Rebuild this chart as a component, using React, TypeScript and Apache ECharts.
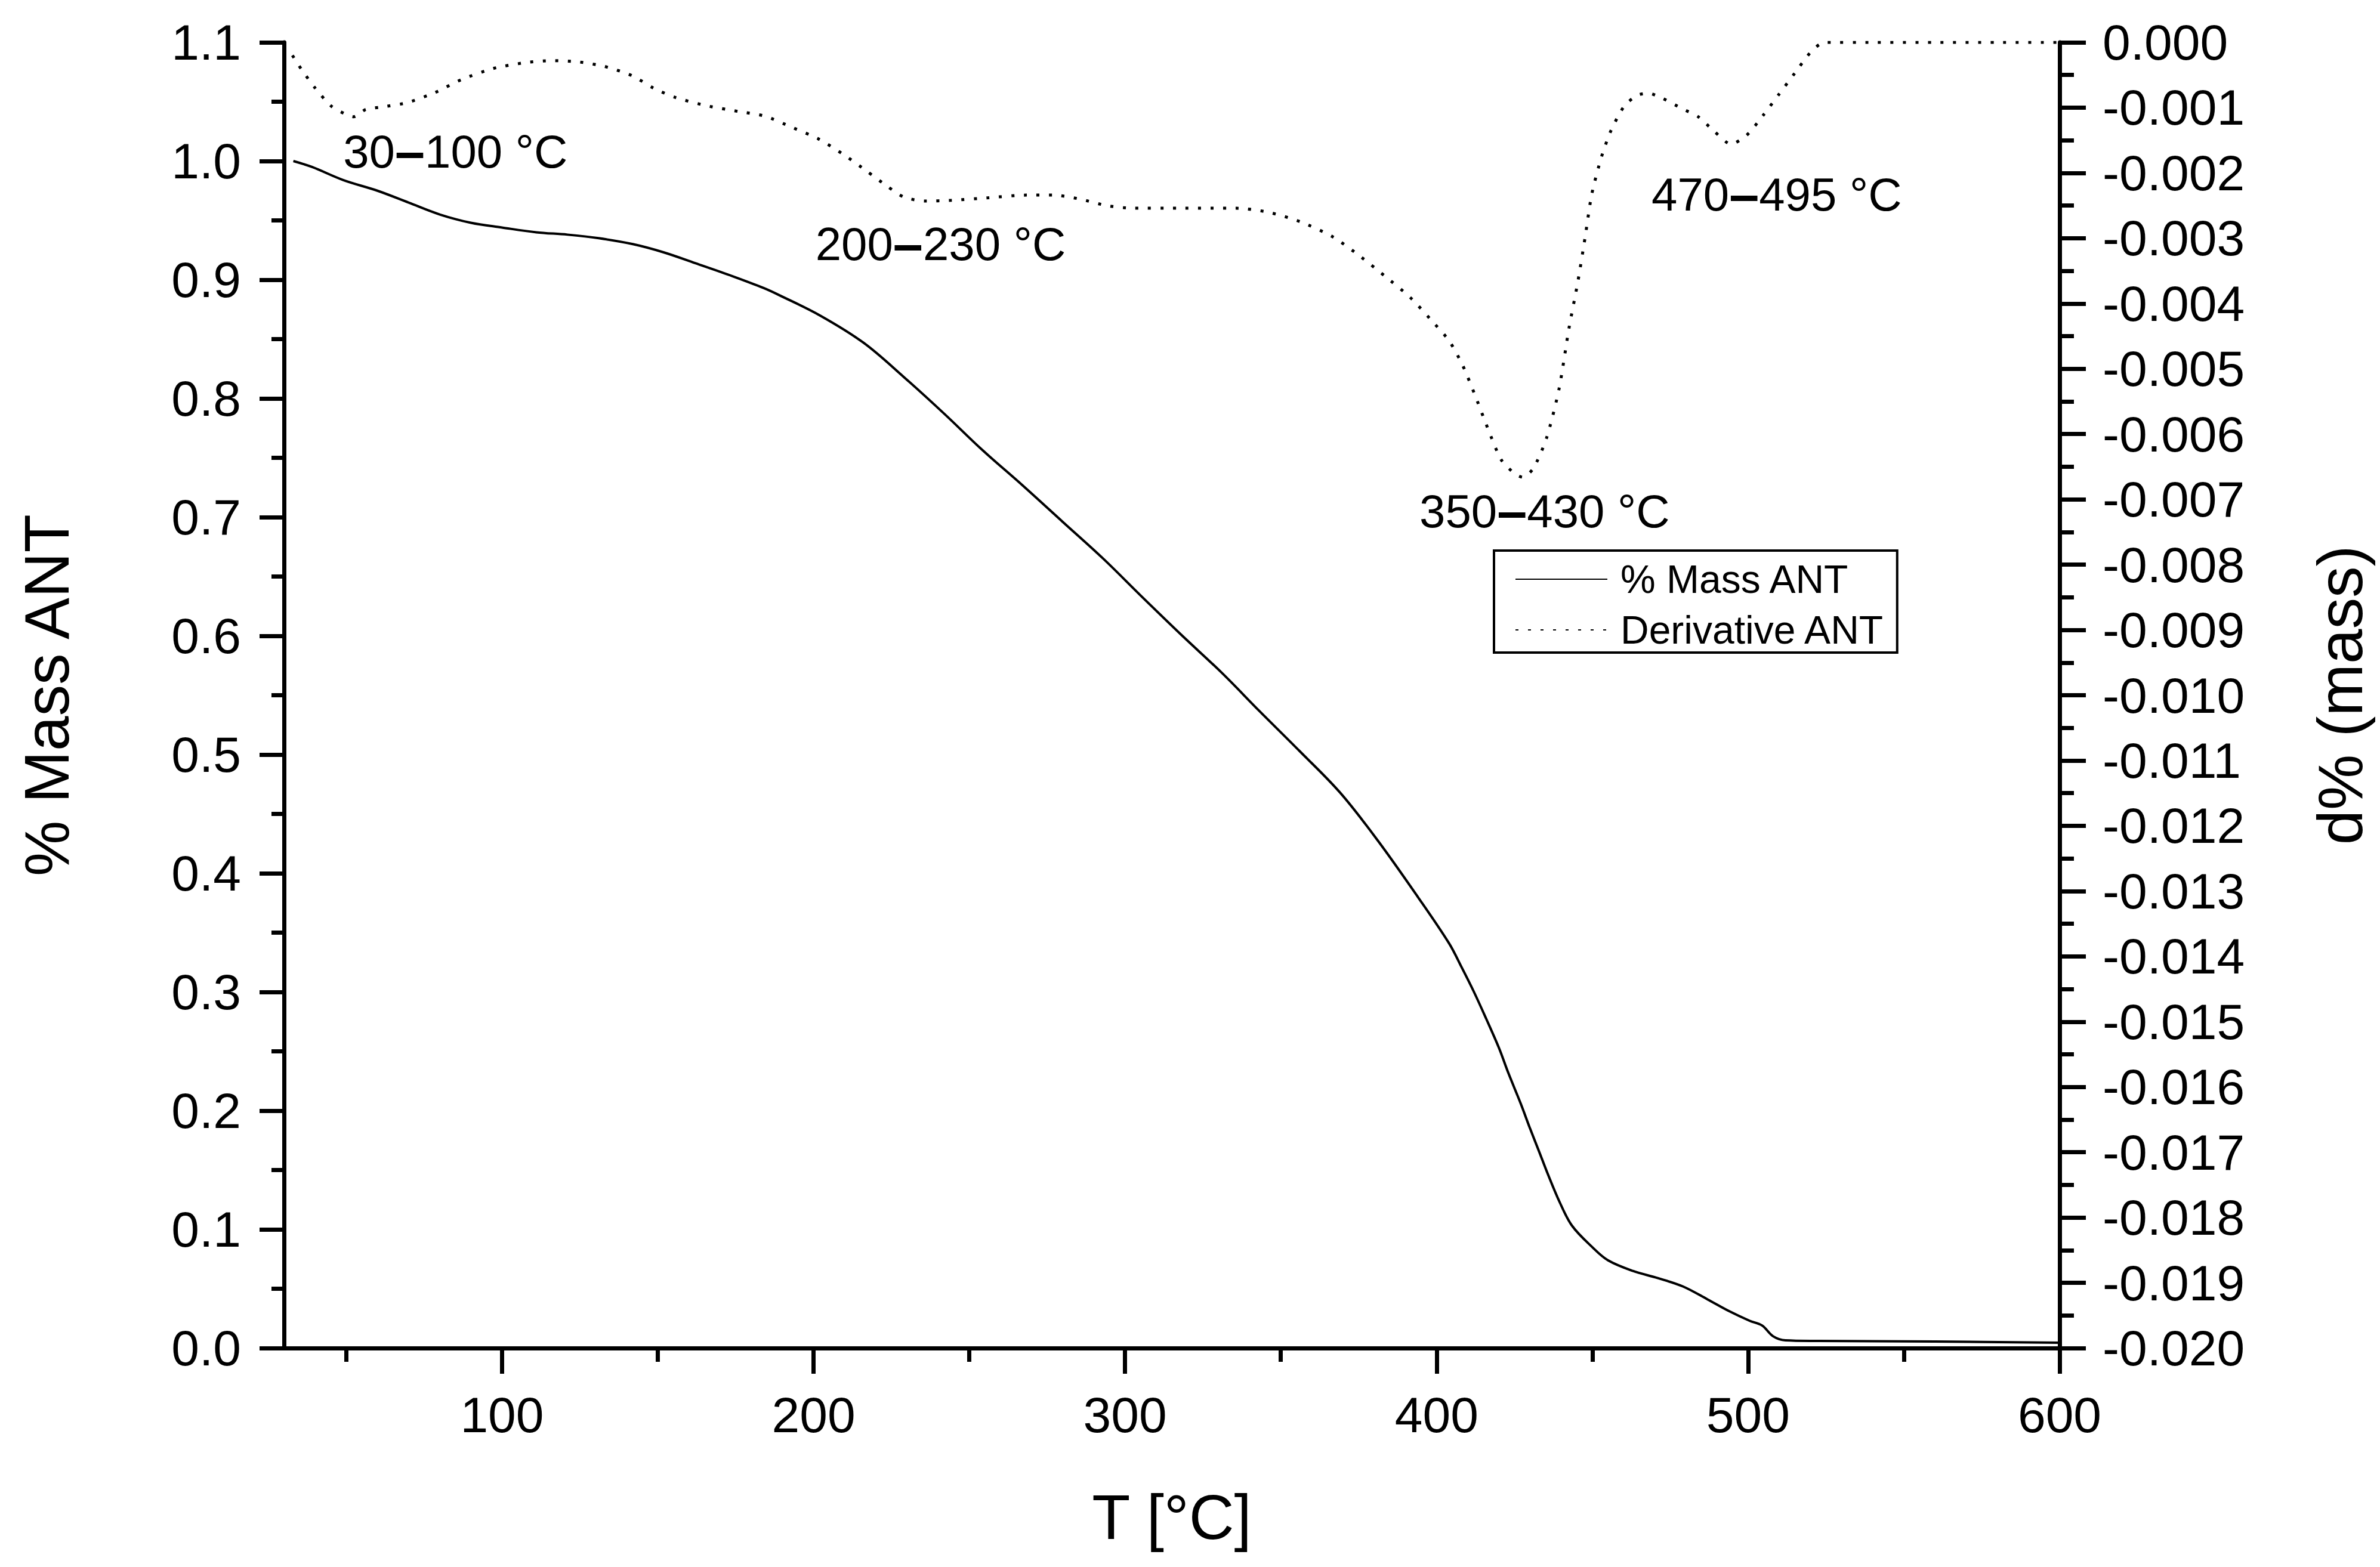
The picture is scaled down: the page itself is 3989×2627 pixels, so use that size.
import React, { useEffect, useRef } from "react";
import * as echarts from "echarts";

// ---- data ----
const massT = [33, 39, 49, 60, 70, 80, 90, 100, 111, 121, 131, 142, 152, 162, 174, 184, 189, 202, 216, 229, 242, 254, 267, 280, 293, 305, 318, 331, 343, 356, 369, 381, 394, 404, 408, 412, 416, 420, 423, 427, 430, 433, 435.5, 439.5, 443.5, 450, 455, 463, 471, 479, 487, 494, 500.5, 504.5, 508, 512, 522, 560, 600];
const massValues = [1.0, 0.995, 0.984, 0.975, 0.965, 0.955, 0.948, 0.944, 0.94, 0.938, 0.935, 0.93, 0.923, 0.914, 0.903, 0.893, 0.887, 0.87, 0.847, 0.818, 0.787, 0.757, 0.727, 0.696, 0.665, 0.634, 0.601, 0.569, 0.537, 0.503, 0.468, 0.428, 0.38, 0.341, 0.321, 0.3, 0.277, 0.253, 0.232, 0.206, 0.185, 0.165, 0.148, 0.123, 0.103, 0.085, 0.074, 0.065, 0.059, 0.052, 0.041, 0.031, 0.023, 0.019, 0.01, 0.0065, 0.006, 0.0055, 0.0045];

const derivT = [32.7, 35.7, 40, 45, 49.3, 52.4, 56.2, 63, 69.8, 78.4, 87, 97.2, 107.6, 116, 124.6, 133, 141.7, 148.6, 155.4, 165.6, 176, 184.4, 193, 201.6, 210, 217, 223.8, 229, 235.7, 244.3, 256.2, 268.3, 276.9, 285.5, 294, 302.3, 317, 335.5, 345.8, 356.4, 366.7, 375, 383.4, 391.6, 398, 404, 408.3, 412.3, 416.5, 420.7, 424.9, 427.6, 431, 435.3, 439.3, 442.5, 445.3, 447.7, 449.8, 452.9, 456, 460.2, 464.4, 468, 472.6, 479, 484, 489.3, 494.5, 499.6, 504.8, 510, 515, 520.3, 524.5, 540, 560, 580, 600];
const derivValues = [-0.0002, -0.00042, -0.0007, -0.00097, -0.00109, -0.00114, -0.00103, -0.00098, -0.00092, -0.00077, -0.00057, -0.0004, -0.00031, -0.00028, -0.0003, -0.00037, -0.00051, -0.0007, -0.00084, -0.00097, -0.00106, -0.00113, -0.0013, -0.00148, -0.00173, -0.00197, -0.00221, -0.00237, -0.00243, -0.00242, -0.00238, -0.00234, -0.00234, -0.0024, -0.0025, -0.00254, -0.00254, -0.00254, -0.0026, -0.00275, -0.00298, -0.00326, -0.00358, -0.00391, -0.00424, -0.00457, -0.00494, -0.0054, -0.00592, -0.00639, -0.0066, -0.00666, -0.00653, -0.00606, -0.00531, -0.00438, -0.00368, -0.00298, -0.00233, -0.00176, -0.00135, -0.00098, -0.00081, -0.00078, -0.00086, -0.00102, -0.00114, -0.00137, -0.00156, -0.00142, -0.00112, -0.00079, -0.00047, -0.00014, 0, 0, 0, 0, 0];

const seriesNames = ["% Mass ANT", "Derivative ANT"];
const xMajorTicks = [100, 200, 300, 400, 500, 600];
const xMinorTicks = [50, 150, 250, 350, 450, 550];
const xTitle = "T [°C]";
const leftTitle = "% Mass ANT";
const rightTitle = "d% (mass)";
const annotationRanges = [
  ["30", "100"],
  ["200", "230"],
  ["350", "430"],
  ["470", "495"],
];

// ---- layout (left edge of text, in data units of T / % mass axis) ----
const annotationAnchors = [
  [49.0, 1.008],
  [200.6, 0.93],
  [394.5, 0.705],
  [469.0, 0.972],
];

const FONT = "'Liberation Sans', Arial, Helvetica, sans-serif";
const BLACK = "#000";

export default function App() {
  const ref = useRef<HTMLDivElement | null>(null);

  useEffect(() => {
    if (!ref.current) return;
    const chart = echarts.init(ref.current, null, { renderer: "svg" });

    const massData = massT.map((t, i) => [t, massValues[i]]);
    const derivData = derivT.map((t, i) => [t, derivValues[i]]);

    const axisLine = { show: true, onZero: false, lineStyle: { color: BLACK, width: 7 } };
    const tickStyle = { color: BLACK, width: 7 };
    const labelStyle = { color: BLACK, fontSize: 84, fontFamily: FONT };
    const nameStyle = { color: BLACK, fontSize: 105, fontFamily: FONT };

    const option: any = {
      animation: false,
      backgroundColor: "#fff",
      grid: { left: 476, right: 537, top: 71, bottom: 367, containLabel: false },
      legend: {
        orient: "vertical",
        left: 2504,
        top: 923,
        itemWidth: 154,
        itemHeight: 20,
        itemGap: 19,
        padding: [15, 20, 5, 35],
        borderColor: BLACK,
        borderWidth: 4,
        data: seriesNames,
        itemStyle: { opacity: 0 },
        textStyle: {
          color: BLACK,
          fontSize: 66,
          fontFamily: FONT,
          lineHeight: 66,
          padding: [0, 0, 0, 17],
        },
      },
      xAxis: [
        {
          type: "value",
          min: 30,
          max: 600,
          position: "bottom",
          axisLine,
          axisTick: { show: true, customValues: xMajorTicks, length: 43, lineStyle: tickStyle },
          axisLabel: { ...labelStyle, customValues: xMajorTicks, margin: 70 },
          splitLine: { show: false },
          name: xTitle,
          nameLocation: "middle",
          nameGap: 231,
          nameTextStyle: nameStyle,
        },
        {
          type: "value",
          min: 30,
          max: 600,
          position: "bottom",
          axisLine: { show: false, onZero: false },
          axisTick: { show: true, customValues: xMinorTicks, length: 23, lineStyle: tickStyle },
          axisLabel: { show: false },
          splitLine: { show: false },
        },
      ],
      yAxis: [
        {
          type: "value",
          min: 0,
          max: 1.1,
          interval: 0.1,
          position: "left",
          axisLine,
          axisTick: { show: true, length: 41, lineStyle: tickStyle },
          minorTick: { show: true, splitNumber: 2, length: 21, lineStyle: tickStyle },
          axisLabel: { ...labelStyle, margin: 72, formatter: (v: number) => v.toFixed(1) },
          splitLine: { show: false },
          minorSplitLine: { show: false },
          name: leftTitle,
          nameLocation: "middle",
          nameRotate: 90,
          nameGap: 345,
          nameTextStyle: nameStyle,
        },
        {
          type: "value",
          min: -0.02,
          max: 0,
          interval: 0.001,
          position: "right",
          axisLine,
          axisTick: { show: true, length: 44, lineStyle: tickStyle },
          minorTick: { show: true, splitNumber: 2, length: 24, lineStyle: tickStyle },
          axisLabel: {
            ...labelStyle,
            margin: 72,
            formatter: (v: number) => (Math.abs(v) < 1e-9 ? "0.000" : v.toFixed(3)),
          },
          splitLine: { show: false },
          minorSplitLine: { show: false },
          name: rightTitle,
          nameLocation: "middle",
          nameRotate: 90,
          nameGap: 418,
          nameTextStyle: nameStyle,
        },
      ],
      series: [
        {
          name: seriesNames[0],
          type: "line",
          xAxisIndex: 0,
          yAxisIndex: 0,
          data: massData,
          showSymbol: false,
          symbol: "none",
          smooth: 0.35,
          lineStyle: { color: BLACK, width: 4 },
          itemStyle: { color: BLACK },
        },
        {
          name: seriesNames[1],
          type: "line",
          xAxisIndex: 0,
          yAxisIndex: 1,
          data: derivData,
          showSymbol: false,
          symbol: "none",
          smooth: 0.25,
          lineStyle: { color: BLACK, width: 5, type: [5, 16] },
          itemStyle: { color: BLACK },
        },
      ],
    };

    chart.setOption(option);

    const graphics = annotationRanges.map((r, i) => {
      const p = chart.convertToPixel({ xAxisIndex: 0, yAxisIndex: 0 }, annotationAnchors[i]) as number[];
      return {
        type: "text",
        x: p[0],
        y: p[1],
        silent: true,
        style: {
          text: `{n|${r[0]}}{d|–}{n|${r[1]} °C}`,
          fill: BLACK,
          align: "left",
          verticalAlign: "middle",
          fontSize: 78,
          fontFamily: FONT,
          rich: {
            n: { fontSize: 78, fontFamily: FONT, fill: BLACK, color: BLACK },
            d: { fontSize: 90, fontFamily: FONT, fontWeight: "bold", fill: BLACK, color: BLACK },
          },
        },
      };
    });
    chart.setOption({ graphic: graphics });

    return () => {
      chart.dispose();
    };
  }, []);

  return (
    <div
      ref={ref}
      style={{ position: "absolute", left: 0, top: 0, width: 3989, height: 2627, background: "#fff" }}
    />
  );
}
